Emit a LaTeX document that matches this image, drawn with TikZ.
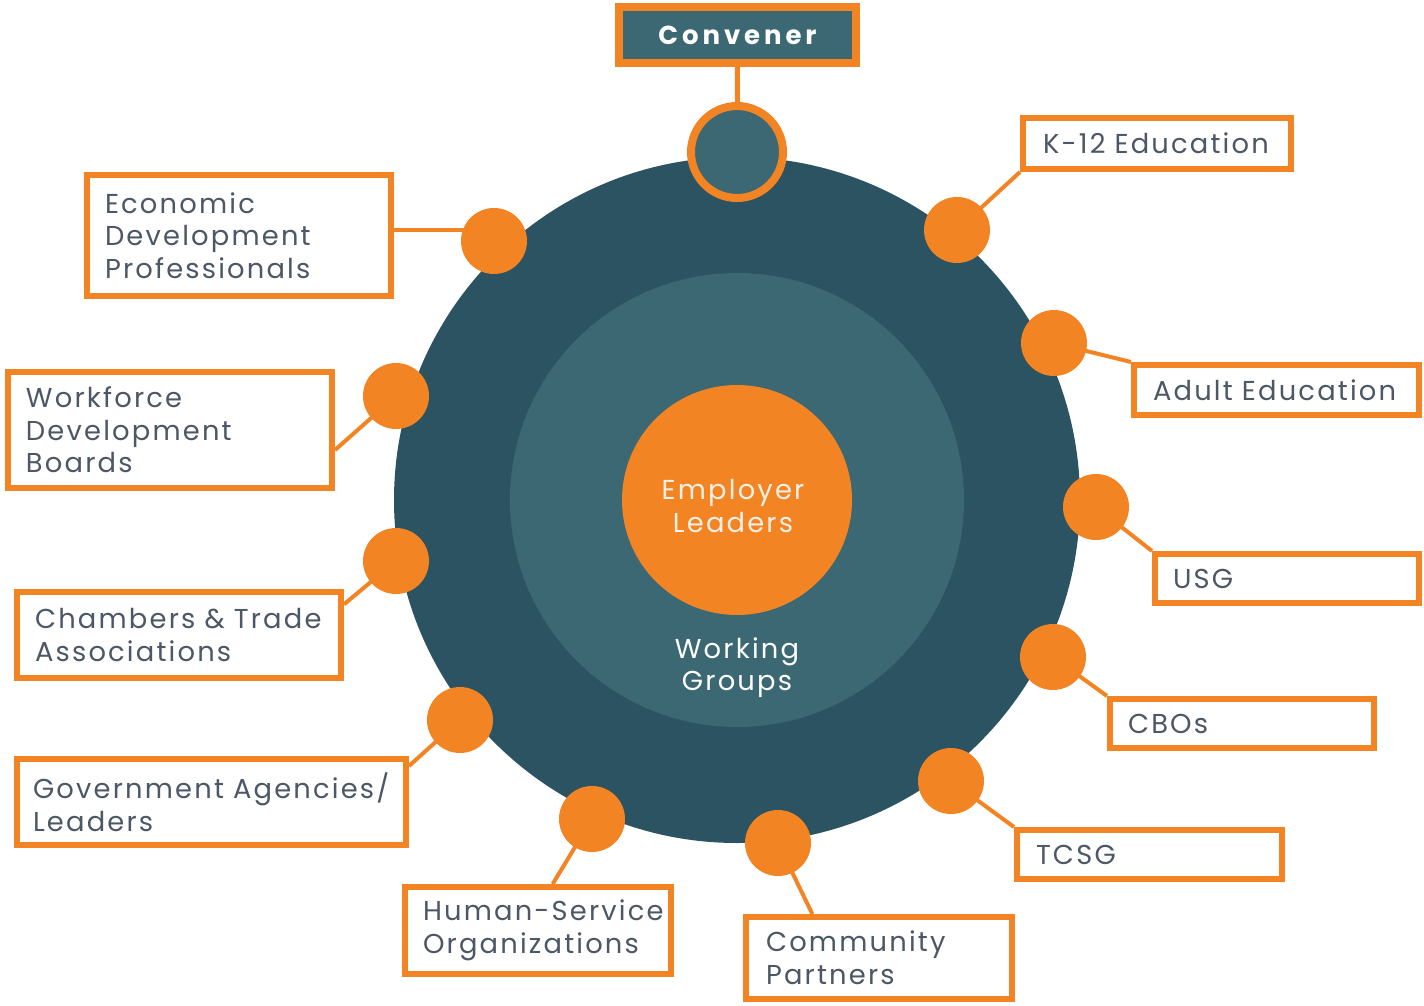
\documentclass[tikz,border=0pt]{standalone}
\usepackage{fontspec}
\setmainfont{Poppins}[LetterSpace=8]
\newfontfamily\convfont{Poppins}[LetterSpace=15]
\definecolor{orng}{HTML}{F38424}
\definecolor{ringdark}{HTML}{2B5361}
\definecolor{ringmid}{HTML}{3B6873}
\definecolor{txtgrey}{HTML}{4C5866}
\definecolor{cream}{HTML}{FBF0E6}
\pgfdeclarelayer{back}
\pgfdeclarelayer{mid}
\pgfsetlayers{back,mid,main}
\begin{document}
\begin{tikzpicture}[x=0.75pt,y=-0.75pt,
  dot/.style={circle,fill=orng,minimum size=49.5pt,inner sep=0pt},
  lbl/.style={draw=orng,line width=4.5pt,fill=white,align=left,text=txtgrey,
     font=\fontsize{20.5}{24.5}\selectfont,inner ysep=0pt},
  conn/.style={draw=orng,line width=3pt},
]
\useasboundingbox (0,0) rectangle (1424,1006);
% circles
\begin{pgfonlayer}{back}
\node[circle,fill=ringdark,minimum size=514.5pt,inner sep=0pt] (outer) at (737,500) {};
\node[circle,fill=ringmid,minimum size=340.5pt,inner sep=0pt] (inner) at (737,500) {};
\node[circle,fill=orng,minimum size=172.5pt,inner sep=0pt] (emp) at (737,500) {};
\node[text=cream,align=center,font=\fontsize{20.5}{24.5}\selectfont] (emptxt) at (733,506) {Employer\\Leaders};
\node[text=white,align=center,font=\fontsize{20.5}{24}\selectfont] (wg) at (737,668) {Working\\Groups};
\end{pgfonlayer}
% convener
\node[draw=orng,line width=6pt,fill=ringmid,minimum width=177.75pt,minimum height=42pt,inner sep=0pt,
  text=white,font=\convfont\bfseries\fontsize{19.5}{22}\selectfont] (conv) at (737.5,35) {Convener};
\node[circle,draw=orng,line width=6pt,fill=ringmid,minimum size=69pt,inner sep=0pt] (convdot) at (737,152) {};
% dots
\node[dot] (ed) at (494,241) {};
\node[dot] (kd) at (957,230) {};
\node[dot] (ad) at (1054,343) {};
\node[dot] (wd) at (396,396) {};
\node[dot] (ud) at (1096,507) {};
\node[dot] (cd) at (396,561) {};
\node[dot] (bd) at (1053,657) {};
\node[dot] (gd) at (460,720) {};
\node[dot] (td) at (951,781) {};
\node[dot] (hd) at (592,819) {};
\node[dot] (pd) at (778,843) {};
% boxes
\node[lbl,minimum width=228pt,minimum height=90.75pt,text width=201pt,inner xsep=13.5pt] (econ) at (239,235.5) {Economic\\Development\\Professionals};
\node[lbl,minimum width=243pt,minimum height=87pt,text width=216pt,inner xsep=13.5pt] (wdb) at (170,430) {Workforce\\Development\\Boards};
\node[lbl,minimum width=243pt,minimum height=64.5pt,text width=216pt,inner xsep=13.5pt] (cha) at (179,635) {Chambers \& Trade\\Associations};
\node[lbl,minimum width=291.75pt,minimum height=64.5pt,text width=267.75pt,inner xsep=12pt] (gov) at (211.5,802) {Government Agencies/\\Leaders};
\node[lbl,minimum width=199.5pt,minimum height=65.25pt,text width=172.5pt,inner xsep=13.5pt] (hum) at (538,930.5) {\mbox{Human-Service}\\Organizations};
\node[lbl,minimum width=199.5pt,minimum height=61.5pt,text width=169.5pt,inner xsep=15pt] (com) at (879,958) {Community\\Partners};
\node[lbl,minimum width=198.75pt,minimum height=36.75pt,text width=170.25pt,inner xsep=14.25pt] (tcsg) at (1149.5,854.5) {TCSG};
\node[lbl,minimum width=198pt,minimum height=36.75pt,text width=171pt,inner xsep=13.5pt] (cbo) at (1242,723.5) {CBOs};
\node[lbl,minimum width=198pt,minimum height=36.75pt,text width=171pt,inner xsep=13.5pt] (usg) at (1287,578.5) {USG};
\node[lbl,minimum width=213.75pt,minimum height=37.5pt,text width=185.25pt,inner xsep=14.25pt] (adu) at (1276.5,390) {Adult Education};
\node[lbl,minimum width=201pt,minimum height=38.25pt,text width=171pt,inner xsep=15pt] (k12) at (1157,143.5) {K-12 Education};
% connectors (behind boxes and dots)
\begin{pgfonlayer}{mid}
\draw[conn,line width=3.75pt] (conv.south) -- (convdot.center);
\draw[conn] ([yshift=4pt]econ.east) -- ([yshift=4pt]econ.east -| ed.center);
\draw[conn] ([yshift=-15pt]wdb.east) -- (wd.center);
\draw[conn] ([yshift=23pt]cha.east) -- (cd.center);
\draw[conn] ([yshift=27pt]gov.east) -- (gd.center);
\draw[conn] ([xshift=11pt]hum.north) -- (hd.center);
\draw[conn] ([xshift=-50pt]com.north) -- (pd.center);
\draw[conn] (tcsg.north west) -- (td.center);
\draw[conn] (cbo.north west) -- (bd.center);
\draw[conn] (usg.north west) -- (ud.center);
\draw[conn] (adu.north west) -- (ad.center);
\draw[conn] (k12.south west) -- (kd.center);
\end{pgfonlayer}
\end{tikzpicture}
\end{document}
